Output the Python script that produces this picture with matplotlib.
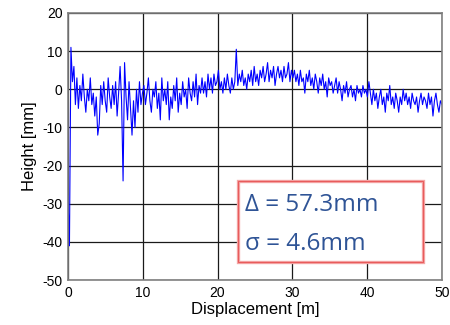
import matplotlib
matplotlib.use("Agg")
import matplotlib.pyplot as plt
import matplotlib.patches as mpatches
import numpy as np

# Height profile [mm] at ~0.2 m steps
height_0_10 = [-28, -41, 11, 2, 6, -4, 3, -5, 1, -3, 4, -2, -6, 0, -3, 3, -4, -1,
               -7, -2, -12, -9, 1, -4, 2, -3, -6, 3, -2, -5, 1, -4, 2, -7, -1, 6,
               -3, -24, 7, -2, -8, 2, -5, -12, -3, -10, 0, -6, 2, -4]
height_10_20 = [-1, 1, -4, -1, 3, -3, -6, 0, -2, 2, -5, -1, -8, 3, -3, 0, -4, 2,
                -8, -2, -5, 1, -3, 3, -6, -1, -4, 2, -2, 0, -5, 3, -1, -3, 2, -2,
                4, -4, 1, -1, 3, -1, 2, -2, 4, 0, 3, -1, 4, 1]
height_20_30 = [2, 5, 0, 2, -1, 3, 0, 4, 1, -1, 3, 0, 2, 10.5, 1, 4, 2, 5, 1, 3,
                0, 4, 2, 5, 1, 6, 2, 4, 1, 5, 3, 6, 2, 4, 7, 2, 5, 3, 6, 1, 4, 6,
                3, 5, 2, 6, 3, 4, 7, 2]
height_30_40 = [5, 3, 5, 2, 4, 1, 5, 2, 3, -1, 4, 2, 5, 1, 3, 0, 4, 2, -1, 3, 1,
                4, 0, 2, -2, 3, 1, 2, -1, 1, 3, -1, 2, 0, -3, 1, -1, 2, -2, 0, 1,
                -2, 0, -3, 1, -1, 0, -2, 1, -1]
height_40_50 = [0, -2, 2, -1, -4, 0, -3, -1, -5, -2, 0, -4, -2, -6, -1, -3, 1, -4,
                -2, -5, -1, -3, -6, -2, -4, 0, -3, -1, -4, -2, -5, -1, -3, -4, -2,
                -6, -3, -1, -4, -2, -3, -5, -1, -4, -2, -7, -3, -1, -4, -6, -3, -4]

height = np.array(height_0_10 + height_10_20 + height_20_30 + height_30_40 + height_40_50,
                  dtype=float)
displacement = np.linspace(0, 50, len(height))

delta_text = "\u0394 = 57.3mm"
sigma_text = "\u03c3 = 4.6mm"

plt.rcParams["font.family"] = ["Liberation Sans", "DejaVu Sans"]
plt.rcParams["axes.unicode_minus"] = False

fig = plt.figure(figsize=(4.5, 3.25), dpi=100)
ax = fig.add_axes([0.151, 0.138, 0.831, 0.822])

ax.plot(displacement, height, color="#0000ff", linewidth=0.8)

ax.set_xlim(0, 50)
ax.set_ylim(-50, 20)
ax.set_xticks(np.arange(0, 51, 10))
ax.set_yticks(np.arange(-50, 21, 10))
ax.grid(True, color="#1a1a1a", linewidth=0.9)
ax.set_axisbelow(True)
ax.tick_params(length=0, labelsize=10, pad=4)
for s in ax.spines.values():
    s.set_color("#808080")
    s.set_linewidth(1.2)

ax.set_xlabel("Displacement [m]", fontsize=12, labelpad=2)
ax.set_ylabel("Height [mm]", fontsize=12, labelpad=4)

# Annotation box (double-looking light red frame)
box = mpatches.Rectangle((0.455, 0.067), 0.494, 0.304, transform=ax.transAxes,
                         facecolor="white", edgecolor="#f4a6a6", linewidth=2.4,
                         zorder=5)
ax.add_patch(box)
inner = mpatches.Rectangle((0.455, 0.067), 0.494, 0.304, transform=ax.transAxes,
                           facecolor="none", edgecolor="#e85c5c", linewidth=0.8,
                           zorder=5)
ax.add_patch(inner)
ax.text(0.473, 0.28, delta_text, transform=ax.transAxes, fontsize=17.5,
        color="#2f5496", va="center", ha="left", zorder=6,
        family=["Open Sans", "DejaVu Sans"])
ax.text(0.473, 0.137, sigma_text, transform=ax.transAxes, fontsize=17.5,
        color="#2f5496", va="center", ha="left", zorder=6,
        family=["Open Sans", "DejaVu Sans"])

fig.savefig("out.png", dpi=100)
